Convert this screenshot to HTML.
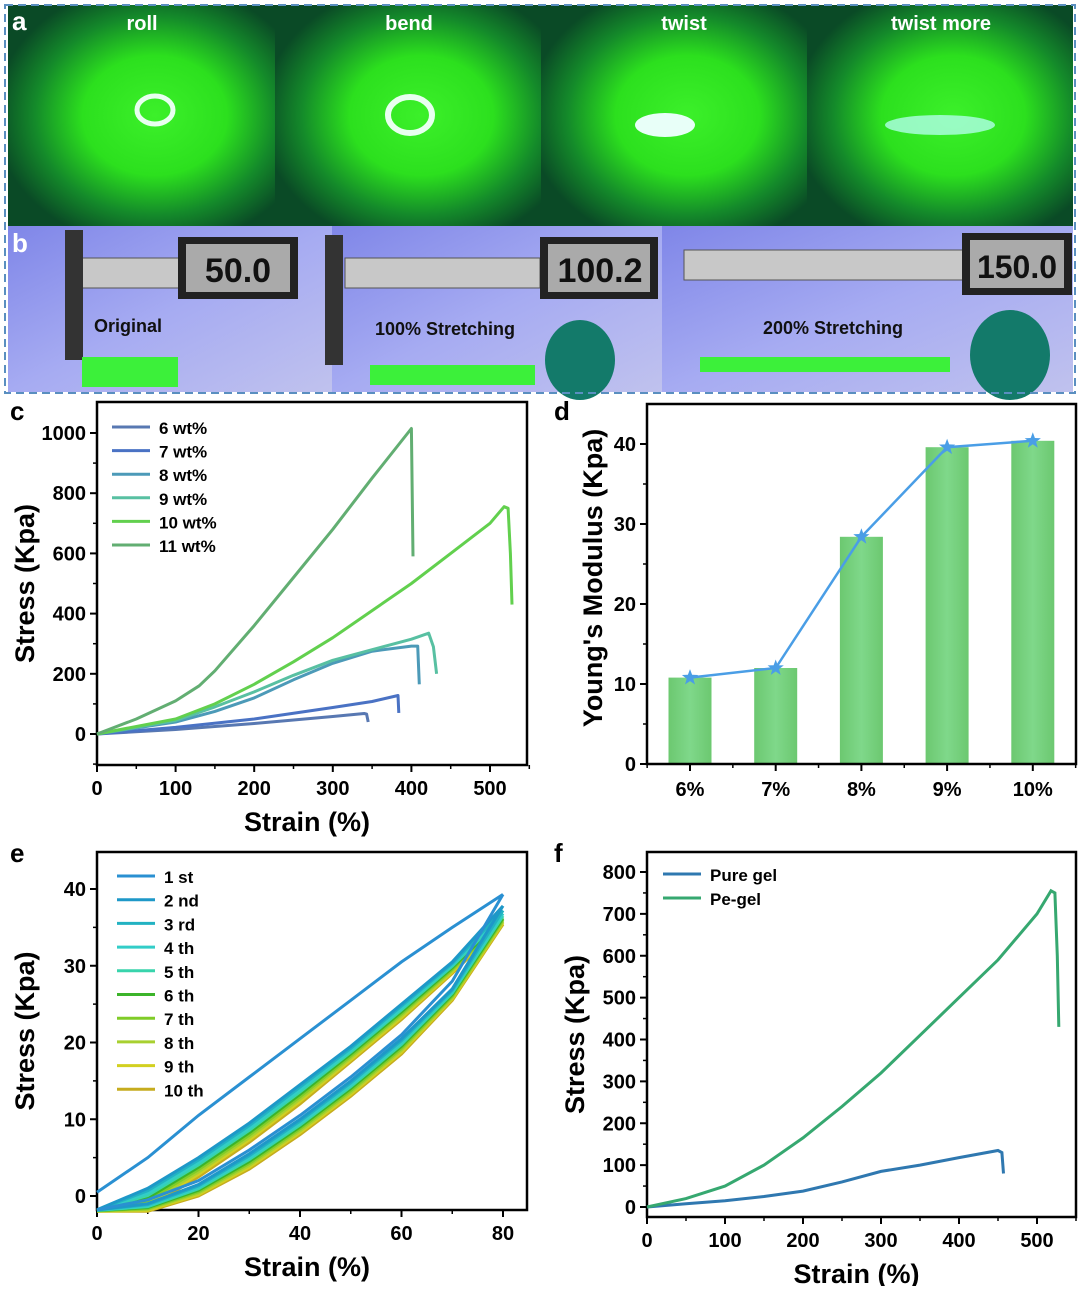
<!DOCTYPE html>
<html><head><meta charset="utf-8"><style>
body{margin:0;background:#fff;font-family:"Liberation Sans",Arial,sans-serif}
svg text{font-family:"Liberation Sans",Arial,sans-serif;font-weight:bold}
</style></head><body>
<svg id="fig" width="1080" height="1286" viewBox="0 0 1080 1286" xmlns="http://www.w3.org/2000/svg">
<defs>
<radialGradient id="gl" cx="0.55" cy="0.5" r="0.6"><stop offset="0" stop-color="#3cf02a"/><stop offset="0.45" stop-color="#2ce01e"/><stop offset="0.75" stop-color="#148a2a"/><stop offset="1" stop-color="#0a4a26"/></radialGradient>
<linearGradient id="bl" x1="0" y1="0" x2="1" y2="1"><stop offset="0" stop-color="#7f86e8"/><stop offset="0.5" stop-color="#a6abf2"/><stop offset="1" stop-color="#c0c2ee"/></linearGradient>
<linearGradient id="bar" x1="0" x2="1"><stop offset="0" stop-color="#6cc870"/><stop offset="0.5" stop-color="#7fd88a"/><stop offset="1" stop-color="#6cc870"/></linearGradient>
</defs>
<g>
<rect x="8" y="5" width="267" height="221" fill="url(#gl)"/>
<rect x="275" y="5" width="266" height="221" fill="url(#gl)"/>
<rect x="541" y="5" width="266" height="221" fill="url(#gl)"/>
<rect x="807" y="5" width="266" height="221" fill="url(#gl)"/>
<ellipse cx="155" cy="110" rx="18" ry="14" fill="none" stroke="#e8fff0" stroke-width="5"/>
<ellipse cx="410" cy="115" rx="22" ry="18" fill="none" stroke="#e8fff0" stroke-width="6"/>
<ellipse cx="665" cy="125" rx="30" ry="12" fill="#e8fff8"/>
<ellipse cx="940" cy="125" rx="55" ry="10" fill="#b0ffe8" opacity="0.8"/>
<text x="12" y="30" font-size="26" fill="#fff">a</text>
<text x="142" y="30" font-size="20" fill="#fff" text-anchor="middle">roll</text>
<text x="409" y="30" font-size="20" fill="#fff" text-anchor="middle">bend</text>
<text x="684" y="30" font-size="20" fill="#fff" text-anchor="middle">twist</text>
<text x="941" y="30" font-size="20" fill="#fff" text-anchor="middle">twist more</text>
</g>
<g>
<rect x="8" y="226" width="324" height="166" fill="url(#bl)"/>
<rect x="332" y="226" width="330" height="166" fill="url(#bl)"/>
<rect x="662" y="226" width="411" height="166" fill="url(#bl)"/>
<rect x="70" y="258" width="110" height="30" fill="#c8c8c8" stroke="#555"/><rect x="178" y="237" width="120" height="62" fill="#222"/><rect x="186" y="244" width="104" height="48" fill="#aaa"/>
<rect x="65" y="230" width="18" height="130" fill="#333"/>
<rect x="82" y="357" width="96" height="30" fill="#3cf03a"/>
<rect x="345" y="258" width="195" height="30" fill="#c8c8c8" stroke="#555"/><rect x="540" y="237" width="118" height="62" fill="#222"/><rect x="548" y="244" width="102" height="48" fill="#aaa"/>
<rect x="325" y="235" width="18" height="130" fill="#333"/>
<rect x="370" y="365" width="165" height="20" fill="#3cf03a"/>
<rect x="684" y="250" width="280" height="30" fill="#c8c8c8" stroke="#555"/><rect x="962" y="233" width="110" height="62" fill="#222"/><rect x="970" y="240" width="94" height="48" fill="#aaa"/>
<rect x="700" y="357" width="250" height="15" fill="#3cf03a"/>
<ellipse cx="580" cy="360" rx="35" ry="40" fill="#137a6a"/><ellipse cx="1010" cy="355" rx="40" ry="45" fill="#137a6a"/>
<text x="238" y="282" font-size="34" fill="#111" text-anchor="middle">50.0</text>
<text x="600" y="282" font-size="34" fill="#111" text-anchor="middle">100.2</text>
<text x="1017" y="278" font-size="32" fill="#111" text-anchor="middle">150.0</text>
<text x="12" y="252" font-size="26" fill="#fff">b</text>
<text x="128" y="332" font-size="18" fill="#111" text-anchor="middle">Original</text>
<text x="445" y="335" font-size="18" fill="#111" text-anchor="middle">100% Stretching</text>
<text x="833" y="334" font-size="18" fill="#111" text-anchor="middle">200% Stretching</text>
</g>
<rect x="5" y="5" width="1070" height="388" fill="none" stroke="#5a8fc0" stroke-width="2" stroke-dasharray="8,5"/>
<g id="charts"></g>
</svg>
<script>
// Panel c data
const cStrain6=[0,100,200,300,340,343,345];
const cStress6=[0,15,35,58,68,66,40];
const cStrain7=[0,100,200,300,350,383,384];
const cStress7=[0,22,50,88,108,128,70];
const cStrain8=[0,100,150,200,250,300,350,400,408,410];
const cStress8=[0,40,75,120,180,235,275,292,292,165];
const cStrain9=[0,100,150,200,250,300,350,400,422,428,432];
const cStress9=[0,45,90,140,195,245,280,315,335,290,200];
const cStrain10=[0,100,150,200,250,300,350,400,450,500,518,523,526,528];
const cStress10=[0,50,100,165,240,320,410,500,600,700,755,750,600,430];
const cStrain11=[0,50,100,130,150,200,250,300,350,400,402];
const cStress11=[0,50,110,160,210,360,520,680,850,1015,590];
const cLabels=["6 wt%","7 wt%","8 wt%","9 wt%","10 wt%","11 wt%"];
const cTicksX=[0,100,200,300,400,500];
const cTicksY=[0,200,400,600,800,1000];
// Panel d data
const dCats=["6%","7%","8%","9%","10%"];
const dVals=[10.8,12.0,28.4,39.6,40.4];
const dTicksY=[0,10,20,30,40];
// Panel e data
const eStrain=[0,10,20,30,40,50,60,70,80];
const eLoad1=[0.5,5,10.5,15.5,20.5,25.5,30.5,35,39.3];
const eUnload1=[-1.8,-0.5,2,6,10.5,15.5,21,28,39.3];
const eLoadPeaks=[39.3,37.8,37.2,36.8,36.5,36.2,36,35.8,35.6,35.4];
const eLoad2=[-1.8,1,5,9.5,14.5,19.5,25,30.5,37.8];
const eLoad10=[-2,-1.5,2.5,7,12,17.5,23,29,35.4];
const eUnload2=[-1.8,-1,1.5,5.5,10,15,20.5,27,37.8];
const eUnload10=[-2,-2,0,3.5,8,13,18.5,25.5,35.4];
const eLabels=["1 st","2 nd","3 rd","4 th","5 th","6 th","7 th","8 th","9 th","10 th"];
const eTicksX=[0,20,40,60,80];
const eTicksY=[0,10,20,30,40];
// Panel f data
const fStrainPure=[0,50,100,150,200,250,300,350,400,450,455,457];
const fStressPure=[0,8,15,25,38,60,85,100,118,135,130,80];
const fStrainPe=[0,50,100,150,200,250,300,350,400,450,500,518,523,526,528];
const fStressPe=[0,20,50,100,165,240,320,410,500,590,700,755,750,600,430];
const fLabels=["Pure gel","Pe-gel"];
const fTicksX=[0,100,200,300,400,500];
const fTicksY=[0,100,200,300,400,500,600,700,800];

const NS="http://www.w3.org/2000/svg";
const root=document.getElementById('charts');
function mk(tag,attrs,parent){const e=document.createElementNS(NS,tag);for(const k in attrs)e.setAttribute(k,attrs[k]);(parent||root).appendChild(e);return e;}
function lin(d0,d1,p0,p1){return v=>p0+(v-d0)*(p1-p0)/(d1-d0);}
function pathD(xs,ys,sx,sy){return xs.map((x,i)=>(i?'L':'M')+sx(x).toFixed(1)+','+sy(ys[i]).toFixed(1)).join('');}

function axes(g,box,sx,sy,tx,ty,xlab,ylab,letter,lx,ly,minorX,minorY){
  const f=mk('rect',{x:box[0],y:box[1],width:box[2]-box[0],height:box[3]-box[1],fill:'none',stroke:'#000','stroke-width':2.5},g);
  
  
  tx.forEach(v=>{const x=sx(v);mk('line',{x1:x,x2:x,y1:box[3],y2:box[3]+7,stroke:'#000','stroke-width':2},g);
    const t=mk('text',{x:x,y:box[3]+30,'font-size':20,'text-anchor':'middle'},g);t.textContent=v;
    
    });
  minorX.forEach(v=>{const x=sx(v);mk('line',{x1:x,x2:x,y1:box[3],y2:box[3]+4,stroke:'#000','stroke-width':1.5},g);});
  ty.forEach(v=>{const y=sy(v);mk('line',{x1:box[0]-7,x2:box[0],y1:y,y2:y,stroke:'#000','stroke-width':2},g);
    const t=mk('text',{x:box[0]-11,y:y+7,'font-size':20,'text-anchor':'end'},g);t.textContent=v;
    
    });
  minorY.forEach(v=>{const y=sy(v);mk('line',{x1:box[0]-4,x2:box[0],y1:y,y2:y,stroke:'#000','stroke-width':1.5},g);});
  if(xlab){const t=mk('text',{x:(box[0]+box[2])/2-5,y:box[3]+66,'font-size':27,'text-anchor':'middle'},g);t.textContent=xlab;
    
    }
  const yt=mk('text',{x:0,y:0,'font-size':27,'text-anchor':'middle',transform:`translate(${box[0]-63},${(box[1]+box[3])/2}) rotate(-90)`},g);yt.textContent=ylab;
  
  
  const L=mk('text',{x:lx,y:ly,'font-size':26},g);L.textContent=letter;
  
  
}
function legend(g,x,y,dy,labels,colors){
  labels.forEach((l,i)=>{mk('line',{x1:x,x2:x+38,y1:y+i*dy,y2:y+i*dy,stroke:colors[i],'stroke-width':3},g);
    const t=mk('text',{x:x+47,y:y+i*dy+7,'font-size':17},g);t.textContent=l;
    
    });
}
function half(a,b){const r=[];for(let i=1;i<a.length;i++)r.push((a[i-1]+a[i])/2);return r;}

// Panel c
{const g=mk('g',{});
const sx=lin(0,500,97,490),sy=lin(0,1000,734,433);
axes(g,[97,402,527,765],sx,sy,cTicksX,cTicksY,'Strain (%)','Stress (Kpa)','c',10,420,half(cTicksX).concat([550]),half(cTicksY).concat([-100]));
const cols=['#5878b2','#4a72c4','#4c9ab8','#58c0a2','#62d04e','#62ae72'];
const xs=[cStrain6,cStrain7,cStrain8,cStrain9,cStrain10,cStrain11],ys=[cStress6,cStress7,cStress8,cStress9,cStress10,cStress11];
xs.forEach((x,i)=>{const p=mk('path',{d:pathD(x,ys[i],sx,sy),fill:'none',stroke:cols[i],'stroke-width':3,'stroke-linejoin':'round'},g);
  
  });
legend(g,112,427,23.6,cLabels,cols);}

// Panel d
{const g=mk('g',{});
const sy=lin(0,40,764,444),sx=i=>690+i*85.7;
dVals.forEach((v,i)=>{const b=mk('rect',{x:sx(i)-21.5,y:sy(v),width:43,height:sy(0)-sy(v),fill:'url(#bar)'},g);
  
  });
const line=mk('path',{d:dVals.map((v,i)=>(i?'L':'M')+sx(i)+','+sy(v)).join(''),fill:'none',stroke:'#4a9ee6','stroke-width':2.5},g);


dVals.forEach((v,i)=>{const cx=sx(i),cy=sy(v);let pts=[];for(let k=0;k<10;k++){const r=k%2?3.5:8.5,a=-Math.PI/2+k*Math.PI/5;pts.push((cx+r*Math.cos(a)).toFixed(1)+','+(cy+r*Math.sin(a)).toFixed(1));}
  const s=mk('polygon',{points:pts.join(' '),fill:'#4a9ee6'},g);
  
  });
const f=mk('rect',{x:647,y:404,width:429,height:360,fill:'none',stroke:'#000','stroke-width':2.5},g);
dCats.forEach((c,i)=>{mk('line',{x1:sx(i),x2:sx(i),y1:764,y2:771,stroke:'#000','stroke-width':2},g);
  const t=mk('text',{x:sx(i),y:796,'font-size':20,'text-anchor':'middle'},g);t.textContent=c;
  
  });
[0,1,2,3,4,5].forEach(i=>mk('line',{x1:sx(i)-42.85,x2:sx(i)-42.85,y1:764,y2:768,stroke:'#000','stroke-width':1.5},g));
dTicksY.forEach(v=>{mk('line',{x1:640,x2:647,y1:sy(v),y2:sy(v),stroke:'#000','stroke-width':2},g);
  const t=mk('text',{x:636,y:sy(v)+7,'font-size':20,'text-anchor':'end'},g);t.textContent=v;
  
  });
half(dTicksY).forEach(v=>mk('line',{x1:643,x2:647,y1:sy(v),y2:sy(v),stroke:'#000','stroke-width':1.5},g));
const yt=mk('text',{x:0,y:0,'font-size':27,'text-anchor':'middle',transform:'translate(602,578) rotate(-90)'},g);yt.textContent="Young's Modulus (Kpa)";


const L=mk('text',{x:554,y:420,'font-size':26},g);L.textContent='d';

}

// Panel e
{const g=mk('g',{});
const sx=lin(0,80,97,503),sy=lin(0,40,1196,889);
axes(g,[97,852,527,1210],sx,sy,eTicksX,eTicksY,'Strain (%)','Stress (Kpa)','e',10,862,half(eTicksX),half(eTicksY));
const cols=['#2a90d2','#1e98c8','#22b2c2','#32cdc8','#38d4ac','#3cb42a','#80cc28','#a8d030','#d2d020','#c6ac1e'];
for(let c=9;c>=0;c--){let L,U;
  if(c===0){L=eLoad1;U=eUnload1;}else{const t=(c-1)/8;L=eLoad2.map((v,k)=>v+(eLoad10[k]-v)*t);U=eUnload2.map((v,k)=>v+(eUnload10[k]-v)*t);}
  L=L.slice();U=U.slice();L[8]=eLoadPeaks[c];U[8]=eLoadPeaks[c];
  const p=mk('path',{d:pathD(eStrain,L,sx,sy)+pathD(eStrain,U,sx,sy),fill:'none',stroke:cols[c],'stroke-width':3},g);
  
  }
legend(g,117,876,23.7,eLabels,cols);}

// Panel f
{const g=mk('g',{});
const sx=lin(0,500,647,1037),sy=lin(0,800,1207,872);
axes(g,[647,852,1076,1217],sx,sy,fTicksX,fTicksY,'Strain (%)','Stress (Kpa)','f',554,862,half(fTicksX).concat([550]),half(fTicksY));
const p1=mk('path',{d:pathD(fStrainPure,fStressPure,sx,sy),fill:'none',stroke:'#2f78b0','stroke-width':3},g);


const p2=mk('path',{d:pathD(fStrainPe,fStressPe,sx,sy),fill:'none',stroke:'#36a870','stroke-width':3},g);


legend(g,663,874,24,fLabels,['#2f78b0','#36a870']);}
</script>
</body></html>
